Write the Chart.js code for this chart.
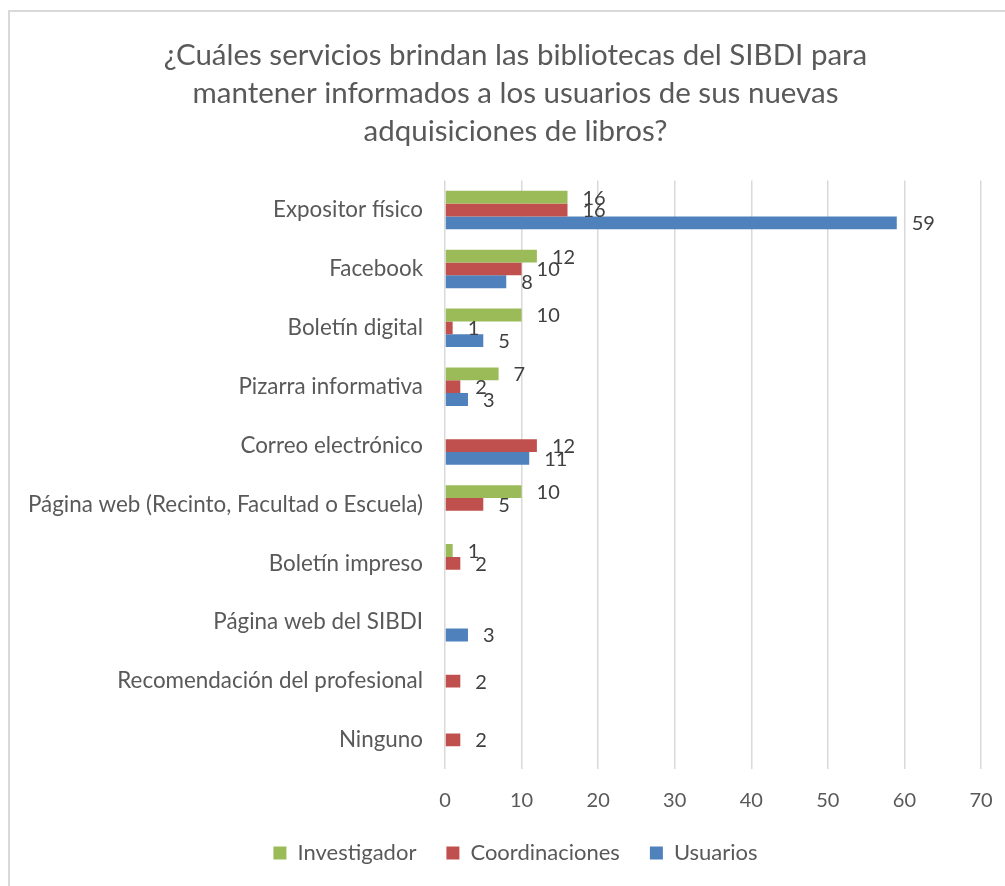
<!DOCTYPE html>
<html lang="es">
<head>
<meta charset="utf-8">
<title>Servicios de información de nuevas adquisiciones</title>
<script src="https://cdn.jsdelivr.net/npm/chart.js@4/dist/chart.umd.min.js"></script>
<style>
  html, body { margin: 0; padding: 0; background: #ffffff; overflow: hidden; }
  body { width: 1005px; height: 886px; position: relative; }
  #frame {
    position: absolute; left: 8px; top: 10px; width: 1013px; height: 890px;
    border: 2px solid #d9d9d9; box-sizing: border-box;
  }
  #chart { position: absolute; left: 10px; top: 12px; }
</style>
</head>
<body>
<div id="frame"></div>
<canvas id="chart" width="1011" height="884"></canvas>
<script>
// Servicios que usan las bibliotecas para informar sobre nuevas adquisiciones
const categories = [
  'Expositor físico',
  'Facebook',
  'Boletín digital',
  'Pizarra informativa',
  'Correo electrónico',
  'Página web (Recinto, Facultad o Escuela)',
  'Boletín impreso',
  'Página web del SIBDI',
  'Recomendación del profesional',
  'Ninguno'
];
const investigador   = [16, 12, 10, 7, null, 10, 1, null, null, null];
const coordinaciones = [16, 10, 1, 2, 12, 5, 2, null, 2, 2];
const usuarios       = [59, 8, 5, 3, 11, null, null, 3, null, null];
const seriesNames = ['Investigador', 'Coordinaciones', 'Usuarios'];
const seriesColors = ['#9BBB59', '#C0504D', '#4F81BD'];
const xTicks = [0, 10, 20, 30, 40, 50, 60, 70];
const titleLines = [
  '¿Cuáles servicios brindan las bibliotecas del SIBDI para',
  'mantener informados a los usuarios de sus nuevas',
  'adquisiciones de libros?'
];

const FONT = 'Lato, "Open Sans", sans-serif';
const TEXT = '#595959';

// Value labels written just past the end of each bar
const valueLabels = {
  id: 'valueLabels',
  afterDatasetsDraw(chart) {
    const ctx = chart.ctx;
    ctx.save();
    ctx.font = '20px ' + FONT;
    ctx.fillStyle = '#404040';
    ctx.textAlign = 'left';
    ctx.textBaseline = 'middle';
    chart.data.datasets.forEach((ds, di) => {
      const meta = chart.getDatasetMeta(di);
      meta.data.forEach((bar, i) => {
        const v = ds.data[i];
        if (v === null || v === undefined) return;
        ctx.fillText(String(v), bar.x + 15, bar.y + 1);
      });
    });
    ctx.restore();
  }
};

new Chart(document.getElementById('chart'), {
  type: 'bar',
  data: {
    labels: categories,
    datasets: [investigador, coordinaciones, usuarios].map((values, k) => ({
      label: seriesNames[k],
      data: values,
      backgroundColor: seriesColors[k],
      borderWidth: 0,
      categoryPercentage: 0.653,
      barPercentage: 1.0
    }))
  },
  options: {
    indexAxis: 'y',
    responsive: false,
    animation: false,
    devicePixelRatio: 1,
    layout: { padding: { left: 0, right: 0, top: 0, bottom: 22 } },
    scales: {
      x: {
        min: 0,
        max: 70,
        afterBuildTicks(scale) { scale.ticks = xTicks.map(v => ({ value: v })); },
        afterFit(scale) { scale.height = 42.6; },
        grid: { color: '#d9d9d9', lineWidth: 1.5, drawTicks: false },
        border: { display: false },
        ticks: { color: TEXT, font: { family: FONT, size: 20 }, padding: 19 }
      },
      y: {
        afterFit(scale) { scale.width = 435; },
        grid: { display: false, drawTicks: false },
        border: { display: false },
        ticks: { color: TEXT, font: { family: FONT, size: 22.4 }, padding: 22, autoSkip: false }
      },
      // empty margin on the right side of the plot
      yRight: {
        type: 'linear',
        axis: 'y',
        position: 'right',
        afterFit(scale) { scale.width = 40; },
        grid: { display: false, drawTicks: false },
        border: { display: false },
        ticks: { display: false }
      }
    },
    plugins: {
      title: {
        display: true,
        text: titleLines,
        color: TEXT,
        font: { family: FONT, size: 29.5, weight: 'normal', lineHeight: 1.288 },
        padding: { top: 24, bottom: 30.6 }
      },
      legend: {
        position: 'bottom',
        labels: {
          color: TEXT,
          font: { family: FONT, size: 22 },
          boxWidth: 13,
          boxHeight: 13,
          padding: 30
        }
      },
      tooltip: { enabled: false }
    }
  },
  plugins: [valueLabels]
});
</script>
</body>
</html>
